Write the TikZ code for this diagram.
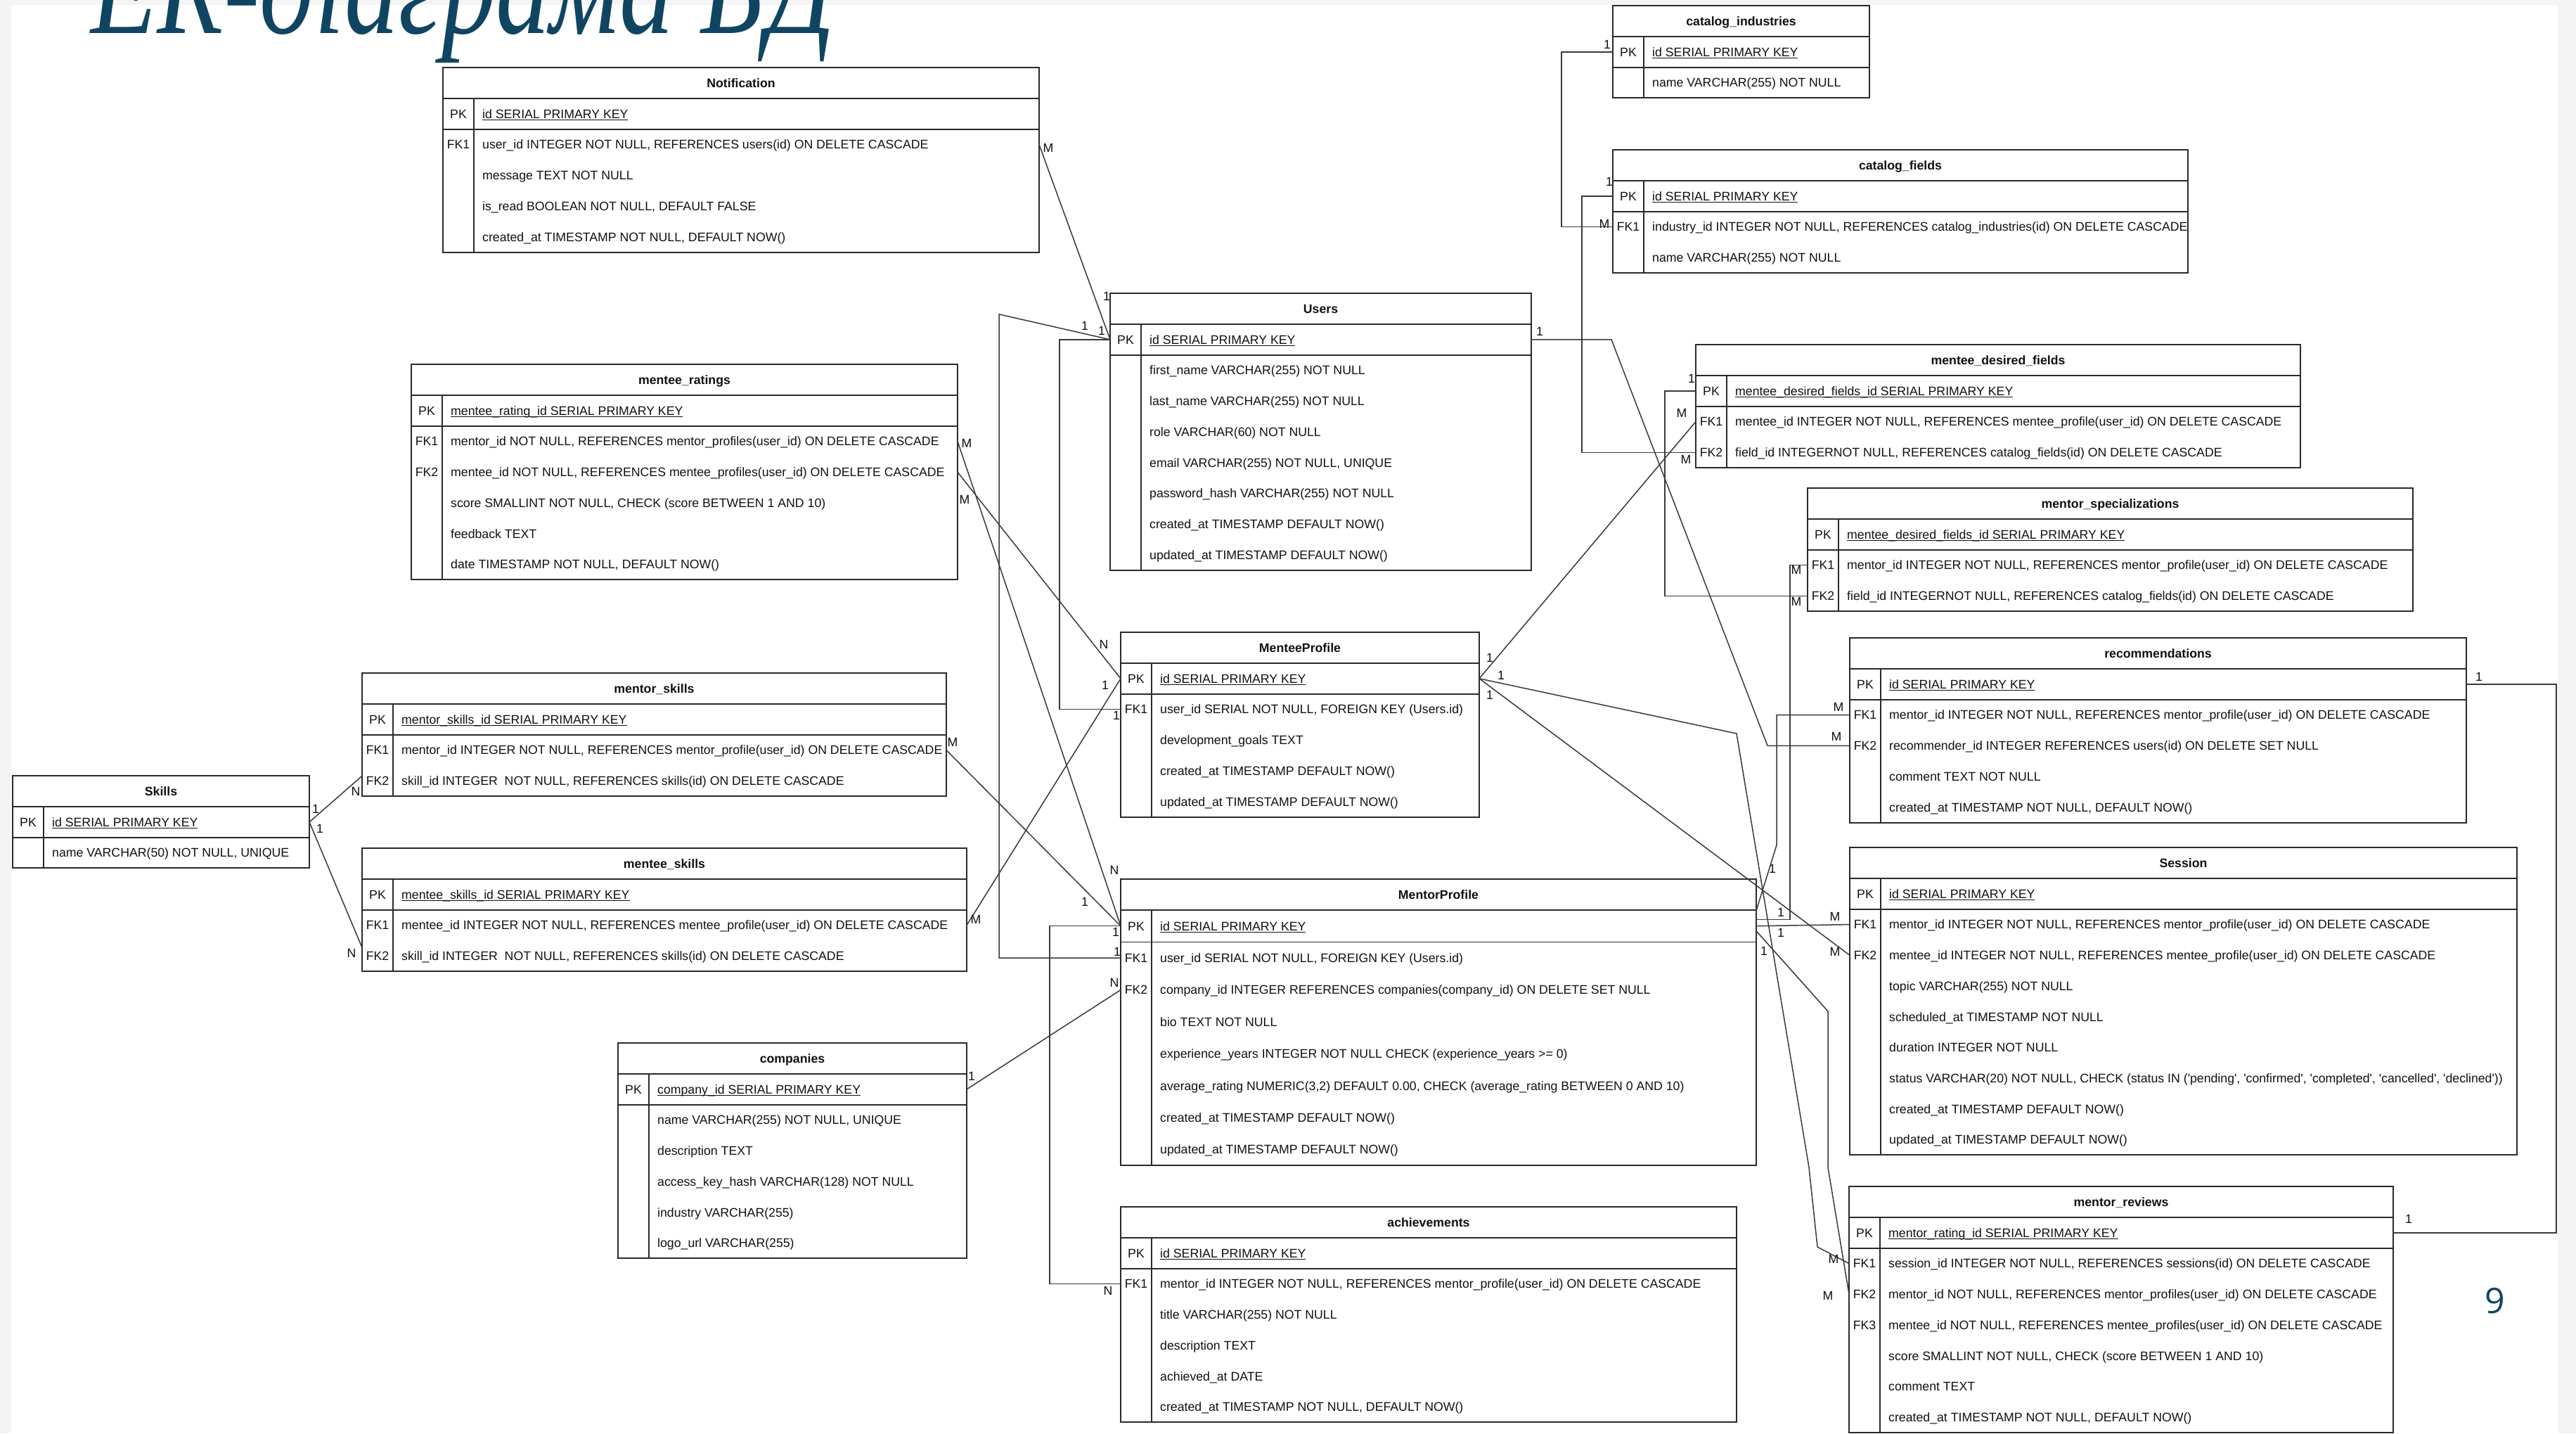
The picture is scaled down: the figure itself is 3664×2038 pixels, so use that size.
\documentclass[tikz,border=0pt]{standalone}
\usepackage{fontspec}
\setmainfont{Liberation Sans}
\newfontfamily\ttlfont{Liberation Serif}
\newfontfamily\numfont{Open Sans}
\usetikzlibrary{calc}
\definecolor{ink}{HTML}{111111}
\definecolor{edgecol}{HTML}{2A2A2A}
\definecolor{conncol}{HTML}{3A3A3A}
\definecolor{ttlcol}{HTML}{104562}
\definecolor{bggray}{HTML}{F4F4F4}
\newsavebox\pkbox
\newcommand\pku[1]{\sbox\pkbox{#1}\rlap{\rule[-3pt]{\wd\pkbox}{1.3pt}}\usebox\pkbox}
\tikzset{
 tabframe/.style={draw=edgecol, line width=2pt, fill=white, inner sep=0pt, outer sep=0pt, rectangle},
 tabline/.style={draw=edgecol, line width=1.8pt},
 hdrtxt/.style={font=\fontsize{17.7}{20}\selectfont\bfseries, text=ink, inner sep=0pt, text height=12.7pt, text depth=0pt},
 keytxt/.style={font=\fontsize{17.7}{20}\selectfont, text=ink, inner sep=0pt, text height=12.7pt, text depth=0pt},
 fldtxt/.style={font=\fontsize{17.7}{20}\selectfont, text=ink, inner sep=0pt, anchor=west, text height=12.7pt, text depth=0pt},
 card/.style={font=\fontsize{17.7}{20}\selectfont, text=ink, inner sep=0pt},
 rel/.style={draw=conncol, line width=1.5pt, line join=miter},
}
\newcommand\ertab[7]{%
 \def\curN{#1}\def\curL{#2}\def\curT{#3}\def\curR{#4}\def\curP{#5}%
 \pgfmathsetmacro\curB{#3+44+#5*#6}%
 \pgfmathsetmacro\curW{#4-#2}%
 \pgfmathsetmacro\curH{\curB-#3}%
 \node[tabframe, minimum width=\curW pt, minimum height=\curH pt, anchor=north west] (#1) at (#2,#3) {};
 \draw[tabline] (#2,#3+44) -- (#4,#3+44);
 \draw[tabline] (#2,{#3+44+#5}) -- (#4,{#3+44+#5});
 \draw[tabline] (#2+44,#3+44) -- (#2+44,\curB);
 \node[hdrtxt] (#1-h) at ({(#2+#4)/2},#3+22) {#7};
 \foreach \i in {1,...,#6}{%
   \coordinate (#1-r\i-w) at (#2,{#3+44+#5*(\i-0.5)});
   \coordinate (#1-r\i-e) at (#4,{#3+44+#5*(\i-0.5)});
 }%
}
\newcommand\rwk[3]{%
 \node[keytxt] (\curN-k#1) at ({\curL+22},{\curT+44+\curP*(#1-0.5)}) {#2};
 \node[fldtxt] (\curN-f#1) at ({\curL+56},{\curT+44+\curP*(#1-0.5)}) {#3};}
\newcommand\rw[2]{%
 \node[fldtxt] (\curN-f#1) at ({\curL+56},{\curT+44+\curP*(#1-0.5)}) {#2};}
\newcommand\q{\textquotesingle}
\begin{document}
\begin{tikzpicture}[x=1pt,y=-1pt]
\useasboundingbox (0,0) rectangle (3664,2038);
\fill[bggray] (0,0) rectangle (3664,2038);
\fill[white] (16,7) rectangle (3638,2038);
\node[anchor=base west, inner sep=0pt, text=ttlcol, font=\ttlfont\itshape\fontsize{150}{160}\selectfont] (ttl) at (129,47) {\scalebox{1.03}[1.32]{ER-діаграма БД}};
\node[text=ttlcol, inner sep=0pt, font=\numfont\fontsize{50}{56}\selectfont] (pgno) at (3549,1850) {9};

% ---------- tables ----------
\ertab{notif}{630}{96}{1478}{43.7}{5}{Notification}
\rwk{1}{PK}{\pku{id SERIAL PRIMARY KEY}}
\rwk{2}{FK1}{user\_id INTEGER NOT NULL, REFERENCES users(id) ON DELETE CASCADE}
\rw{3}{message TEXT NOT NULL}
\rw{4}{is\_read BOOLEAN NOT NULL, DEFAULT FALSE}
\rw{5}{created\_at TIMESTAMP NOT NULL, DEFAULT NOW()}

\ertab{catind}{2294}{8}{2659}{43.7}{2}{catalog\_industries}
\rwk{1}{PK}{\pku{id SERIAL PRIMARY KEY}}
\rw{2}{name VARCHAR(255) NOT NULL}

\ertab{catf}{2294}{213}{3112}{43.7}{3}{catalog\_fields}
\rwk{1}{PK}{\pku{id SERIAL PRIMARY KEY}}
\rwk{2}{FK1}{industry\_id INTEGER NOT NULL, REFERENCES catalog\_industries(id) ON DELETE CASCADE}
\rw{3}{name VARCHAR(255) NOT NULL}

\ertab{users}{1579}{417}{2178}{43.7}{8}{Users}
\rwk{1}{PK}{\pku{id SERIAL PRIMARY KEY}}
\rw{2}{first\_name VARCHAR(255) NOT NULL}
\rw{3}{last\_name VARCHAR(255) NOT NULL}
\rw{4}{role VARCHAR(60) NOT NULL}
\rw{5}{email VARCHAR(255) NOT NULL, UNIQUE}
\rw{6}{password\_hash VARCHAR(255) NOT NULL}
\rw{7}{created\_at TIMESTAMP DEFAULT NOW()}
\rw{8}{updated\_at TIMESTAMP DEFAULT NOW()}

\ertab{mrat}{585}{518}{1362}{43.7}{6}{mentee\_ratings}
\rwk{1}{PK}{\pku{mentee\_rating\_id SERIAL PRIMARY KEY}}
\rwk{2}{FK1}{mentor\_id NOT NULL, REFERENCES mentor\_profiles(user\_id) ON DELETE CASCADE}
\rwk{3}{FK2}{mentee\_id NOT NULL, REFERENCES mentee\_profiles(user\_id) ON DELETE CASCADE}
\rw{4}{score SMALLINT NOT NULL, CHECK (score BETWEEN 1 AND 10)}
\rw{5}{feedback TEXT}
\rw{6}{date TIMESTAMP NOT NULL, DEFAULT NOW()}

\ertab{mdf}{2412}{490}{3272}{43.7}{3}{mentee\_desired\_fields}
\rwk{1}{PK}{\pku{mentee\_desired\_fields\_id SERIAL PRIMARY KEY}}
\rwk{2}{FK1}{mentee\_id INTEGER NOT NULL, REFERENCES mentee\_profile(user\_id) ON DELETE CASCADE}
\rwk{3}{FK2}{field\_id INTEGERNOT NULL, REFERENCES catalog\_fields(id) ON DELETE CASCADE}

\ertab{ms}{2571}{694}{3432}{43.7}{3}{mentor\_specializations}
\rwk{1}{PK}{\pku{mentee\_desired\_fields\_id SERIAL PRIMARY KEY}}
\rwk{2}{FK1}{mentor\_id INTEGER NOT NULL, REFERENCES mentor\_profile(user\_id) ON DELETE CASCADE}
\rwk{3}{FK2}{field\_id INTEGERNOT NULL, REFERENCES catalog\_fields(id) ON DELETE CASCADE}

\ertab{menteep}{1594}{899}{2104}{43.7}{5}{MenteeProfile}
\rwk{1}{PK}{\pku{id SERIAL PRIMARY KEY}}
\rwk{2}{FK1}{user\_id SERIAL NOT NULL, FOREIGN KEY (Users.id)}
\rw{3}{development\_goals TEXT}
\rw{4}{created\_at TIMESTAMP DEFAULT NOW()}
\rw{5}{updated\_at TIMESTAMP DEFAULT NOW()}

\ertab{recom}{2631}{907}{3508}{43.7}{5}{recommendations}
\rwk{1}{PK}{\pku{id SERIAL PRIMARY KEY}}
\rwk{2}{FK1}{mentor\_id INTEGER NOT NULL, REFERENCES mentor\_profile(user\_id) ON DELETE CASCADE}
\rwk{3}{FK2}{recommender\_id INTEGER REFERENCES users(id) ON DELETE SET NULL}
\rw{4}{comment TEXT NOT NULL}
\rw{5}{created\_at TIMESTAMP NOT NULL, DEFAULT NOW()}

\ertab{mskill}{515}{957}{1346}{43.7}{3}{mentor\_skills}
\rwk{1}{PK}{\pku{mentor\_skills\_id SERIAL PRIMARY KEY}}
\rwk{2}{FK1}{mentor\_id INTEGER NOT NULL, REFERENCES mentor\_profile(user\_id) ON DELETE CASCADE}
\rwk{3}{FK2}{skill\_id INTEGER\ \ NOT NULL, REFERENCES skills(id) ON DELETE CASCADE}

\ertab{skills}{18}{1103}{440}{43.7}{2}{Skills}
\rwk{1}{PK}{\pku{id SERIAL PRIMARY KEY}}
\rw{2}{name VARCHAR(50) NOT NULL, UNIQUE}

\ertab{meskill}{515}{1206}{1375}{43.7}{3}{mentee\_skills}
\rwk{1}{PK}{\pku{mentee\_skills\_id SERIAL PRIMARY KEY}}
\rwk{2}{FK1}{mentee\_id INTEGER NOT NULL, REFERENCES mentee\_profile(user\_id) ON DELETE CASCADE}
\rwk{3}{FK2}{skill\_id INTEGER\ \ NOT NULL, REFERENCES skills(id) ON DELETE CASCADE}

\ertab{mentorp}{1594}{1250}{2498}{45.4}{8}{MentorProfile}
\rwk{1}{PK}{\pku{id SERIAL PRIMARY KEY}}
\rwk{2}{FK1}{user\_id SERIAL NOT NULL, FOREIGN KEY (Users.id)}
\rwk{3}{FK2}{company\_id INTEGER REFERENCES companies(company\_id) ON DELETE SET NULL}
\rw{4}{bio TEXT NOT NULL}
\rw{5}{experience\_years INTEGER NOT NULL CHECK (experience\_years >= 0)}
\rw{6}{average\_rating NUMERIC(3,2) DEFAULT 0.00, CHECK (average\_rating BETWEEN 0 AND 10)}
\rw{7}{created\_at TIMESTAMP DEFAULT NOW()}
\rw{8}{updated\_at TIMESTAMP DEFAULT NOW()}

\ertab{session}{2631}{1205}{3580}{43.7}{9}{Session}
\rwk{1}{PK}{\pku{id SERIAL PRIMARY KEY}}
\rwk{2}{FK1}{mentor\_id INTEGER NOT NULL, REFERENCES mentor\_profile(user\_id) ON DELETE CASCADE}
\rwk{3}{FK2}{mentee\_id INTEGER NOT NULL, REFERENCES mentee\_profile(user\_id) ON DELETE CASCADE}
\rw{4}{topic VARCHAR(255) NOT NULL}
\rw{5}{scheduled\_at TIMESTAMP NOT NULL}
\rw{6}{duration INTEGER NOT NULL}
\rw{7}{status VARCHAR(20) NOT NULL, CHECK (status IN (\q pending\q, \q confirmed\q, \q completed\q, \q cancelled\q, \q declined\q))}
\rw{8}{created\_at TIMESTAMP DEFAULT NOW()}
\rw{9}{updated\_at TIMESTAMP DEFAULT NOW()}

\ertab{comp}{879}{1483}{1375}{43.7}{6}{companies}
\rwk{1}{PK}{\pku{company\_id SERIAL PRIMARY KEY}}
\rw{2}{name VARCHAR(255) NOT NULL, UNIQUE}
\rw{3}{description TEXT}
\rw{4}{access\_key\_hash VARCHAR(128) NOT NULL}
\rw{5}{industry VARCHAR(255)}
\rw{6}{logo\_url VARCHAR(255)}

\ertab{ach}{1594}{1716}{2470}{43.7}{6}{achievements}
\rwk{1}{PK}{\pku{id SERIAL PRIMARY KEY}}
\rwk{2}{FK1}{mentor\_id INTEGER NOT NULL, REFERENCES mentor\_profile(user\_id) ON DELETE CASCADE}
\rw{3}{title VARCHAR(255) NOT NULL}
\rw{4}{description TEXT}
\rw{5}{achieved\_at DATE}
\rw{6}{created\_at TIMESTAMP NOT NULL, DEFAULT NOW()}

\ertab{mrev}{2630}{1687}{3404}{43.7}{7}{mentor\_reviews}
\rwk{1}{PK}{\pku{mentor\_rating\_id SERIAL PRIMARY KEY}}
\rwk{2}{FK1}{session\_id INTEGER NOT NULL, REFERENCES sessions(id) ON DELETE CASCADE}
\rwk{3}{FK2}{mentor\_id NOT NULL, REFERENCES mentor\_profiles(user\_id) ON DELETE CASCADE}
\rwk{4}{FK3}{mentee\_id NOT NULL, REFERENCES mentee\_profiles(user\_id) ON DELETE CASCADE}
\rw{5}{score SMALLINT NOT NULL, CHECK (score BETWEEN 1 AND 10)}
\rw{6}{comment TEXT}
\rw{7}{created\_at TIMESTAMP NOT NULL, DEFAULT NOW()}

% ---------- connectors ----------
\draw[rel] (notif-r2-e) -- (users-r1-w);
\draw[rel] (users-r1-w) -- ++(-72,0) |- (menteep-r2-w);
\draw[rel] (users-r1-w) -- ++(-158,-36) |- (mentorp-r2-w);
\draw[rel] (users-r1-e) -- ++(114,0) -- ($(recom-r3-w)+(-117,0)$) -- (recom-r3-w);
\draw[rel] (catind-r1-w) -- ++(-73,0) |- (catf-r2-w);
\draw[rel] (catf-r1-w) -- ++(-44,0) |- (mdf-r3-w);
\draw[rel] (mdf-r1-w) -- ++(-44,0) |- (ms-r3-w);
\draw[rel] (ms-r2-w) -- ++(-25,0) |- ($(mentorp-r1-e)+(0,-9)$);
\draw[rel] (recom-r2-w) -- ++(-104,0) -- ++(0,185) -- ($(mentorp-r1-e)+(0,-22)$);
\draw[rel] (mentorp-r1-e) -- (session-r2-w);
\draw[rel] (menteep-r1-e) -- (mdf-r2-w);
\draw[rel] (menteep-r1-e) -- (session-r3-w);
\draw[rel] (menteep-r1-e) -- (2470,1043) -- (2573,1660) -- (2585,1773) -- (mrev-r2-w);
\draw[rel] ($(mentorp-r1-e)+(0,7)$) -- (2600,1438) -- (2600,1660) -- (mrev-r3-w);
\draw[rel] (recom-r1-e) -- ++(128,0) |- (mrev-r1-e);
\draw[rel] (mrat-r2-e) -- (mentorp-r1-w);
\draw[rel] (mrat-r3-e) -- (menteep-r1-w);
\draw[rel] (mskill-r2-e) -- (mentorp-r1-w);
\draw[rel] (meskill-r2-e) -- (menteep-r1-w);
\draw[rel] (skills-r1-e) -- ($(mskill-r3-w)+(0,-7)$);
\draw[rel] (skills-r1-e) -- ($(meskill-r3-w)+(0,-12)$);
\draw[rel] (comp-r1-e) -- (mentorp-r3-w);
\draw[rel] (mentorp-r1-w) -- ++(-101,0) |- (ach-r2-w);

% ---------- cardinalities ----------
\node[card] (c01) at (1491,210) {M};
\node[card] (c02) at (1574,421) {1};
\node[card] (c03) at (1543,463) {1};
\node[card] (c04) at (1567,470) {1};
\node[card] (c05) at (2190,471) {1};
\node[card] (c06) at (2286,63) {1};
\node[card] (c07) at (2282,318) {M};
\node[card] (c08) at (2289,258) {1};
\node[card] (c09) at (2406,538) {1};
\node[card] (c10) at (2392,587) {M};
\node[card] (c11) at (2398,653) {M};
\node[card] (c12) at (2555,810) {M};
\node[card] (c13) at (2555,855) {M};
\node[card] (c14) at (1375,630) {M};
\node[card] (c15) at (1372,710) {M};
\node[card] (c16) at (1570,916) {N};
\node[card] (c17) at (1572,974) {1};
\node[card] (c18) at (1588,1017) {1};
\node[card] (c19) at (2119,935) {1};
\node[card] (c20) at (2135,960) {1};
\node[card] (c21) at (2119,988) {1};
\node[card] (c22) at (2615,1005) {M};
\node[card] (c23) at (2612,1047) {M};
\node[card] (c24) at (3526,962) {1};
\node[card] (c25) at (1355,1055) {M};
\node[card] (c26) at (506,1125) {N};
\node[card] (c27) at (449,1150) {1};
\node[card] (c28) at (455,1178) {1};
\node[card] (c29) at (1388,1307) {M};
\node[card] (c30) at (500,1355) {N};
\node[card] (c31) at (1585,1237) {N};
\node[card] (c32) at (1543,1282) {1};
\node[card] (c33) at (1587,1325) {1};
\node[card] (c34) at (1589,1353) {1};
\node[card] (c35) at (1585,1397) {N};
\node[card] (c36) at (2521,1235) {1};
\node[card] (c37) at (2533,1297) {1};
\node[card] (c38) at (2533,1326) {1};
\node[card] (c39) at (2509,1352) {1};
\node[card] (c40) at (2610,1303) {M};
\node[card] (c41) at (2610,1353) {M};
\node[card] (c42) at (1382,1530) {1};
\node[card] (c43) at (1576,1835) {N};
\node[card] (c44) at (2608,1790) {M};
\node[card] (c45) at (2600,1842) {M};
\node[card] (c46) at (3426,1733) {1};
\end{tikzpicture}
\end{document}
